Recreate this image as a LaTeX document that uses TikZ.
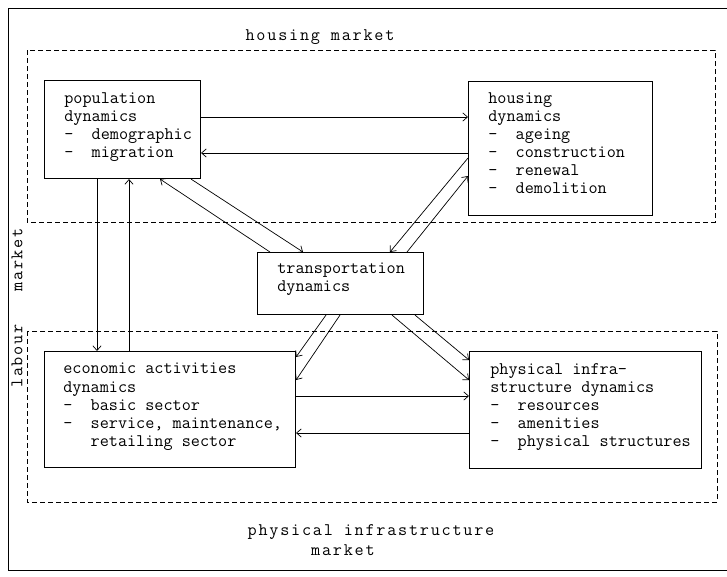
\documentclass[tikz,border=0pt]{standalone}
\usepackage{fontspec}
\usetikzlibrary{arrows.meta,calc}
\tikzset{>={Straight Barb[length=4pt,width=7pt]}}

\newfontfamily\widetype[LetterSpace=10]{Latin Modern Mono}

\newlength\pix
\setlength\pix{0.03cm}

\tikzset{
  dynbox/.style={draw, line width=0.9pt, anchor=north west, inner sep=0pt},
  boxtext/.style={anchor=north west, align=left, inner sep=0pt,
    font=\ttfamily\fontsize{15.1}{15.37}\selectfont},
  marklabel/.style={inner sep=0pt,
    font=\widetype\fontsize{15.1}{17.07}\selectfont},
  market/.style={dash pattern=on 5\pix off 3\pix, line width=0.8pt},
}

\begin{document}
\begin{tikzpicture}[x=0.03cm,y=-0.03cm,line width=0.6pt]
  \useasboundingbox (0,0) rectangle (727,576);

  % outer frame and market areas
  \draw (727,8) -- (8,8) -- (8,570) -- (727,570);
  \draw[market] (27,50) rectangle (715,222);
  \draw[market] (27,331) rectangle (717,502);

  \node[marklabel] (housing-market) at (320,37) {housing market};
  \node[marklabel, rotate=90] (labour-market) at (17,308) {labour~~~market};
  \node[marklabel, align=left] (infra-market) at (371,542) {physical infrastructure\\\phantom{physic}market};

  % dynamics boxes
  \node[dynbox, minimum width=156\pix, minimum height=98\pix] (pop) at (44,80) {};
  \node[boxtext] (pop-text) at ([shift={(20,12)}]pop.north west) {population\\dynamics\\-~~demographic\\-~~migration};

  \node[dynbox, minimum width=184\pix, minimum height=134\pix] (house) at (468,81) {};
  \node[boxtext] (house-text) at ([shift={(20,11)}]house.north west) {housing\\dynamics\\-~~ageing\\-~~construction\\-~~renewal\\-~~demolition};

  \node[dynbox, minimum width=166\pix, minimum height=62\pix] (transp) at (257,252) {};
  \node[boxtext] (transp-text) at ([shift={(20,11)}]transp.north west) {transportation\\dynamics};

  \node[dynbox, minimum width=251\pix, minimum height=116\pix] (econ) at (44,351) {};
  \node[boxtext] (econ-text) at ([shift={(19,12)}]econ.north west) {economic activities\\dynamics\\-~~basic sector\\-~~service, maintenance,\\\phantom{-~~}retailing sector};

  \node[dynbox, minimum width=232\pix, minimum height=117\pix] (phys) at (469,351) {};
  \node[boxtext] (phys-text) at ([shift={(21,12)}]phys.north west) {physical infra-\\structure dynamics\\-~~resources\\-~~amenities\\-~~physical structures};

  % flows
  \draw[->] (pop.east |- 0,117) -- (house.west |- 0,117);
  \draw[->] (house.west |- 0,153) -- (pop.east |- 0,153);
  \draw[->] (pop.south -| 97,0) -- (econ.north -| 97,0);
  \draw[->] (econ.north -| 129,0) -- (pop.south -| 129,0);

  \draw[->] (transp.north -| 270,0) -- (pop.south -| 160,0);
  \draw[->] (pop.south -| 191,0) -- (transp.north -| 303,0);
  \draw[->] (house.west |- 0,158) -- (transp.north -| 390,0);
  \draw[->] (transp.north -| 407,0) -- (house.west |- 0,176);

  \draw[->] (transp.south -| 326,0) -- (econ.east |- 0,357);
  \draw[->] (transp.south -| 340,0) -- (econ.east |- 0,380);
  \draw[->] (transp.south -| 415,0) -- (phys.west |- 0,360);
  \draw[->] (transp.south -| 392,0) -- (phys.west |- 0,380);

  \draw[->] (econ.east |- 0,396) -- (phys.west |- 0,396);
  \draw[->] (phys.west |- 0,433) -- (econ.east |- 0,433);
\end{tikzpicture}
\end{document}
